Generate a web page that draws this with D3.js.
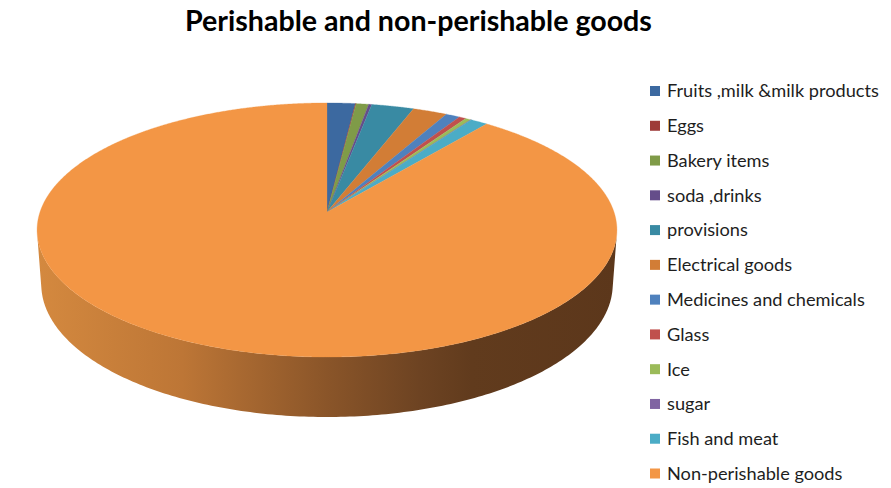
<!DOCTYPE html>
<html>
<head>
<meta charset="utf-8">
<script src="https://cdn.jsdelivr.net/npm/d3@7/dist/d3.min.js"></script>
<style>
  html, body { margin: 0; padding: 0; background: #fff; }
  svg { display: block; }
</style>
</head>
<body>
<svg id="chart" width="891" height="488"></svg>
<script>
// ---- data ----
const categories = [
  "Fruits ,milk &milk products", "Eggs", "Bakery items", "soda ,drinks",
  "provisions", "Electrical goods", "Medicines and chemicals", "Glass",
  "Ice", "sugar", "Fish and meat", "Non-perishable goods"
];
const values = [1.8, 0.05, 0.8, 0.2, 2.7, 2.2, 0.9, 0.45, 0.35, 0.05, 1.1, 89.4];
const colors = [
  "#3C69A0", "#9E3B39", "#7F9B48", "#654D8A", "#398AA3", "#D27D36",
  "#4F81BD", "#C0504D", "#9BBB59", "#8064A2", "#4BACC6", "#F39645"
];
const title = "Perishable and non-perishable goods";

// ---- layout ----
const svg = d3.select("#chart");
const W = 891, H = 488;
const cx = 327, cy = 212, R = 287, L = 1825, depth = 60.4;
const sinA = 124.5 / 287, cosA = Math.sqrt(1 - sinA * sinA);

function proj(theta, z) {
  const X = R * Math.sin(theta), Y = -R * Math.cos(theta), Z = z;
  const yUp = -Y * sinA + Z * cosA;
  const d = Y * cosA + Z * sinA;
  const s = L / (L - d);
  return [cx + X * s, cy - yUp * s];
}
function projCenter(z) {
  const yUp = z * cosA, d = z * sinA, s = L / (L - d);
  return [cx, cy - yUp * s];
}

const color = d3.scaleOrdinal(categories, colors);
const pie = d3.pie().sort(null).value(d => d.v).startAngle(0).endAngle(2 * Math.PI);
const arcs = pie(categories.map((c, i) => ({ c, v: values[i] })));

const defs = svg.append("defs");
const grad = defs.append("linearGradient").attr("id", "wallGrad")
  .attr("gradientUnits", "userSpaceOnUse")
  .attr("x1", 37).attr("x2", 617).attr("y1", 0).attr("y2", 0);
[[0, "#D4893F"], [0.25, "#BD7636"], [0.5, "#8A5529"], [0.66, "#6D4322"],
 [0.75, "#613B1D"], [1, "#5C371B"]].forEach(([o, c]) =>
  grad.append("stop").attr("offset", o).attr("stop-color", c));

// ---- outer side wall (visible front part) ----
const vis = Math.acos(-R / (L * cosA)); // visible where cos(theta) < -R/(L cosA)
const t0 = vis, t1 = 2 * Math.PI - vis;
const N = 200;
const wallPts = [];
for (let i = 0; i <= N; i++) wallPts.push(proj(t0 + (t1 - t0) * i / N, 0));
for (let i = N; i >= 0; i--) wallPts.push(proj(t0 + (t1 - t0) * i / N, -depth));
svg.append("path")
  .attr("d", d3.line()(wallPts) + "Z")
  .attr("fill", "url(#wallGrad)");

// ---- top faces ----
svg.append("g").selectAll("path").data(arcs).join("path")
  .attr("d", a => {
    const pts = [projCenter(0)];
    const n = Math.max(2, Math.ceil((a.endAngle - a.startAngle) / 0.005));
    for (let i = 0; i <= n; i++) pts.push(proj(a.startAngle + (a.endAngle - a.startAngle) * i / n, 0));
    return d3.line()(pts) + "Z";
  })
  .attr("fill", a => color(a.data.c))
  .attr("stroke", a => color(a.data.c))
  .attr("stroke-width", 0.3);

// ---- title ----
const titleText = svg.append("text")
  .attr("x", 418.5).attr("y", 31)
  .attr("text-anchor", "middle")
  .attr("font-family", "Lato, 'Open Sans', sans-serif")
  .attr("font-weight", "bold")
  .attr("font-size", 24)
  .attr("fill", "#000")
  .text(title);
{
  const w = titleText.node().getComputedTextLength();
  titleText.attr("font-size", 24 * 467 / w);
}

// ---- legend ----
const ly = d3.scalePoint().domain(categories).range([91, 473.5]);
const lg = svg.append("g");
const items = lg.selectAll("g").data(categories).join("g")
  .attr("transform", c => `translate(0,${ly(c)})`);
items.append("rect")
  .attr("x", 650).attr("y", -5).attr("width", 10).attr("height", 10)
  .attr("fill", c => color(c));
const labels = items.append("text")
  .attr("x", 667).attr("y", 0).attr("dy", "0.35em")
  .attr("font-family", "Lato, 'Open Sans', sans-serif")
  .attr("font-size", 15)
  .attr("fill", "#1e1e1e")
  .text(c => c);
{
  const w = labels.nodes()[0].getComputedTextLength();
  labels.attr("font-size", 15 * 212 / w);
}
</script>
</body>
</html>
